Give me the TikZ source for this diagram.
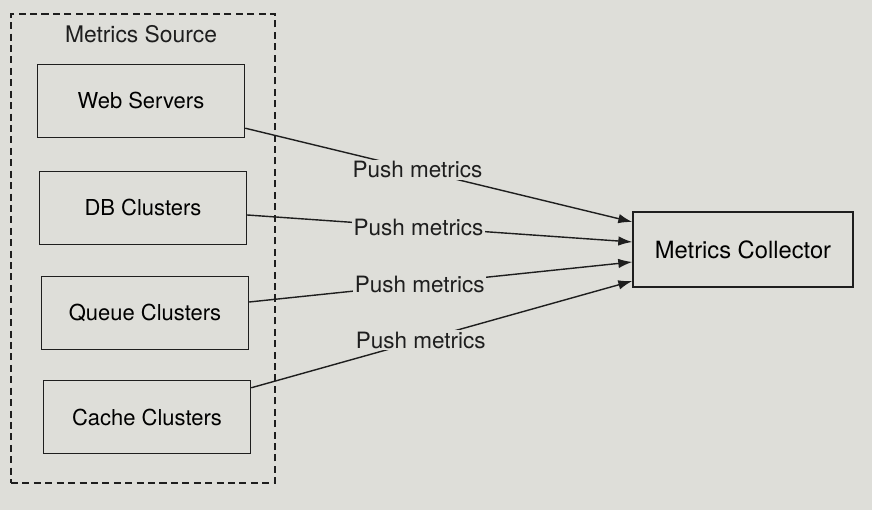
\documentclass[tikz,border=0pt]{standalone}
\usepackage{fontspec}
\setmainfont{TeX Gyre Heros}
\usepackage{xcolor}
\usepackage{tikz}
\usetikzlibrary{positioning,calc,arrows.meta}

\definecolor{paper}{RGB}{222,222,217}
\definecolor{ink}{RGB}{30,30,30}

\begin{document}
\begin{tikzpicture}[
    source/.style={rectangle, draw=ink, line width=0.8pt, minimum width=4.14cm, minimum height=1.46cm, font=\fontsize{12.5}{15}\selectfont},
    frame/.style={rectangle, draw=ink, dash pattern=on 4pt off 2.5pt, line width=0.8pt, minimum width=5.28cm, minimum height=9.38cm},
    pushlabel/.style={fill=paper, inner sep=1pt, text=ink, font=\fontsize{12.8}{15}\selectfont, pos=0.445},
    arrow/.style={-{Latex[length=0.28cm, width=0.19cm]}, draw=ink, line width=0.8pt}
]
    % page background
    \fill[paper] (0,0) rectangle (17.44,10.2);
    \useasboundingbox (0,0) rectangle (17.44,10.2);

    \node[frame] (src) at (2.86,5.23) {};
    \node[text=ink, font=\fontsize{13}{15}\selectfont] (srclabel) at (2.82,9.52) {Metrics Source};

    \node[source] (web) at (2.82,8.18) {Web Servers};
    \node[source] (db) at (2.86,6.04) {DB Clusters};
    \node[source] (queue) at (2.90,3.94) {Queue Clusters};
    \node[source] (cache) at (2.94,1.86) {Cache Clusters};

    \node[source, minimum width=4.4cm, minimum height=1.5cm, font=\fontsize{13.5}{15}\selectfont] (coll) at (14.86,5.21) {Metrics Collector};

    \draw[arrow] ($(web.south east)+(0,0.2)$) -- ($(coll.west)+(0,0.55)$) node[pushlabel] {Push metrics};
    \draw[arrow] ($(db.east)+(0,-0.14)$) -- ($(coll.west)+(0,0.15)$) node[pushlabel] {Push metrics};
    \draw[arrow] ($(queue.east)+(0,0.22)$) -- ($(coll.west)+(0,-0.25)$) node[pushlabel] {Push metrics};
    \draw[arrow] ($(cache.north east)+(0,-0.16)$) -- ($(coll.west)+(0,-0.63)$) node[pushlabel] {Push metrics};
\end{tikzpicture}
\end{document}
